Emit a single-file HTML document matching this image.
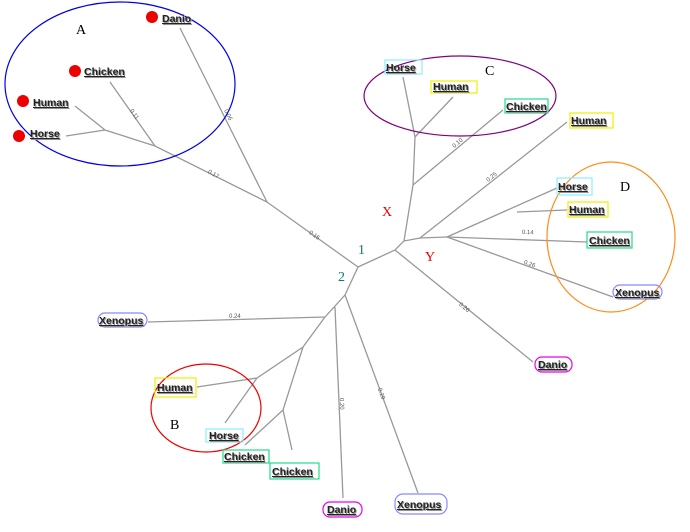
<!DOCTYPE html>
<html><head><style>
html,body{margin:0;padding:0;background:#fff;}
svg{display:block;}
.l{font-family:"Liberation Sans",sans-serif;font-size:10.5px;font-weight:bold;fill:#222;text-decoration:underline;}
.s{font-family:"Liberation Sans",sans-serif;font-size:10.5px;font-weight:bold;fill:#999;text-decoration:underline;}
.e{font-family:"Liberation Sans",sans-serif;font-size:6px;fill:#555;}
.g{font-family:"Liberation Serif",serif;font-size:14px;}
</style></head><body>
<svg width="690" height="532" viewBox="0 0 690 532" xmlns="http://www.w3.org/2000/svg">
<g stroke="#999" stroke-width="1.3" fill="none">
<polyline points="358,267 267,202 155,146 105,130 75,106"/>
<line x1="105" y1="130" x2="66" y2="136"/>
<line x1="155" y1="146" x2="110" y2="82"/>
<line x1="267" y1="202" x2="180" y2="28"/>
<polyline points="358,267 395,250 404,241 413,185 415,137 403,77"/>
<line x1="415" y1="137" x2="453" y2="97"/>
<line x1="413" y1="185" x2="503" y2="110"/>
<polyline points="404,241 420,238 567,122"/>
<line x1="420" y1="238" x2="447" y2="237"/>
<line x1="447" y1="237" x2="557" y2="188"/>
<line x1="517" y1="212" x2="567" y2="210"/>
<line x1="447" y1="237" x2="587" y2="242"/>
<line x1="447" y1="237" x2="613" y2="297"/>
<line x1="395" y1="250" x2="533" y2="362"/>
<polyline points="358,267 345,295 325,317 148,322"/>
<polyline points="325,317 303,347 257,378 197,387"/>
<line x1="257" y1="378" x2="225" y2="423"/>
<polyline points="303,347 283,410 245,445"/>
<line x1="283" y1="410" x2="292" y2="450"/>
<line x1="335" y1="307" x2="343" y2="498"/>
<line x1="345" y1="295" x2="418" y2="493"/>
</g>
<ellipse cx="120" cy="84" rx="115" ry="82" fill="none" stroke="#0000ee" stroke-width="1.2"/>
<ellipse cx="460" cy="96" rx="96" ry="40" fill="none" stroke="#800080" stroke-width="1.2"/>
<ellipse cx="611" cy="237" rx="64" ry="75" fill="none" stroke="#ff8c1a" stroke-width="1.2"/>
<ellipse cx="206" cy="408" rx="55" ry="44" fill="none" stroke="#ee0000" stroke-width="1.2"/>
<g fill="#ee0000"><circle cx="152" cy="17" r="6"/><circle cx="75" cy="71" r="6"/><circle cx="23" cy="101" r="6"/><circle cx="19" cy="136" r="6"/></g>
<g fill="none" stroke-width="1.2">
<rect x="385" y="60" width="37" height="14" stroke="#88eeff"/>
<rect x="431" y="81" width="46" height="12" stroke="#eeee00"/>
<rect x="505" y="99" width="43" height="14" stroke="#22dd88"/>
<rect x="570" y="113" width="43" height="15" stroke="#eeee00"/>
<rect x="557" y="178" width="35" height="17" stroke="#88eeff"/>
<rect x="568" y="202" width="40" height="15" stroke="#eeee00"/>
<rect x="587" y="232" width="45" height="16" stroke="#22dd88"/>
<rect x="613" y="285" width="49" height="14" rx="7" stroke="#8888ff"/>
<rect x="535" y="357" width="37" height="15" rx="7" stroke="#ee00ee"/>
<rect x="98" y="313" width="49" height="14" rx="7" stroke="#8888ff"/>
<rect x="155" y="378" width="41" height="19" stroke="#eeee00"/>
<rect x="206" y="429" width="37" height="13" stroke="#88eeff"/>
<rect x="223" y="450" width="46" height="13" stroke="#22dd88"/>
<rect x="270" y="463" width="49" height="16" stroke="#22dd88"/>
<rect x="323" y="502" width="39" height="15" rx="7" stroke="#ee00ee"/>
<rect x="395" y="494" width="52" height="20" rx="8" stroke="#8888ff"/>
</g>
<g class="s" transform="translate(1,1)">
<text x="162" y="22">Danio</text>
<text x="84" y="75">Chicken</text>
<text x="33" y="106">Human</text>
<text x="30" y="137">Horse</text>
<text x="386" y="71">Horse</text>
<text x="433" y="90">Human</text>
<text x="506" y="110">Chicken</text>
<text x="571" y="124">Human</text>
<text x="558" y="190">Horse</text>
<text x="569" y="213">Human</text>
<text x="589" y="244">Chicken</text>
<text x="615" y="296">Xenopus</text>
<text x="538" y="368">Danio</text>
<text x="99" y="324">Xenopus</text>
<text x="157" y="391">Human</text>
<text x="209" y="439">Horse</text>
<text x="224" y="460">Chicken</text>
<text x="272" y="475">Chicken</text>
<text x="327" y="513">Danio</text>
<text x="397" y="508">Xenopus</text>
</g>
<g class="l">
<text x="162" y="22">Danio</text>
<text x="84" y="75">Chicken</text>
<text x="33" y="106">Human</text>
<text x="30" y="137">Horse</text>
<text x="386" y="71">Horse</text>
<text x="433" y="90">Human</text>
<text x="506" y="110">Chicken</text>
<text x="571" y="124">Human</text>
<text x="558" y="190">Horse</text>
<text x="569" y="213">Human</text>
<text x="589" y="244">Chicken</text>
<text x="615" y="296">Xenopus</text>
<text x="538" y="368">Danio</text>
<text x="99" y="324">Xenopus</text>
<text x="157" y="391">Human</text>
<text x="209" y="439">Horse</text>
<text x="224" y="460">Chicken</text>
<text x="272" y="475">Chicken</text>
<text x="327" y="513">Danio</text>
<text x="397" y="508">Xenopus</text>
</g>
<g class="g">
<text x="76" y="34">A</text><text x="485" y="75">C</text><text x="620" y="191">D</text><text x="170" y="429">B</text>
<text x="382" y="216" fill="#ee0000">X</text><text x="425" y="261" fill="#ee0000">Y</text>
<text x="358" y="254" fill="#117777">1</text><text x="338" y="281" fill="#117777">2</text>
</g>
<g class="e">
<text x="130" y="114" transform="rotate(55 133 112)">0.11</text>
<text x="223" y="116" transform="rotate(63 228 114)">0.06</text>
<text x="208" y="175" transform="rotate(30 212 173)">0.17</text>
<text x="309" y="236" transform="rotate(35 313 234)">0.15</text>
<text x="452" y="146" transform="rotate(-40 456 144)">0.10</text>
<text x="486" y="180" transform="rotate(-38 490 178)">0.25</text>
<text x="522" y="234" transform="rotate(2 526 232)">0.14</text>
<text x="524" y="265" transform="rotate(20 528 263)">0.26</text>
<text x="459" y="308" transform="rotate(40 463 306)">0.26</text>
<text x="229" y="318">0.24</text>
<text x="337" y="403" transform="rotate(88 341 402)">0.20</text>
<text x="377" y="394" transform="rotate(70 381 392)">0.29</text>
</g>
</svg>
</body></html>
